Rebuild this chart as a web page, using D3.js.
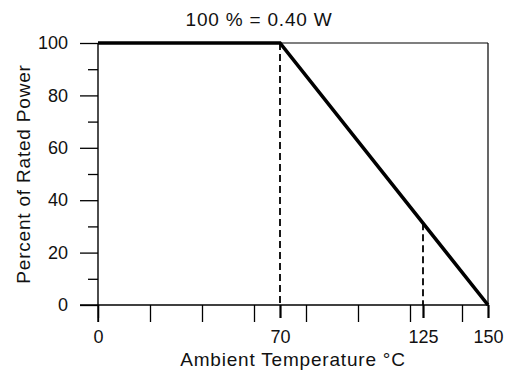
<!DOCTYPE html>
<html>
<head>
<meta charset="utf-8">
<script src="https://cdn.jsdelivr.net/npm/d3@7"></script>
<style>
  body { margin: 0; background: #fff; }
  svg text { font-family: "Liberation Sans", Arial, sans-serif; fill: #111; }
  .axis path { display: none; }
  .axis line { stroke: #000; }
</style>
</head>
<body>
<script>
// Derating curve
var tempC = [0, 70, 150];
var powerPct = [100, 100, 0];

// Dashed markers
var markerTemps = [70, 125];

// Ticks
var xMinorTicks = [0, 20, 40, 60, 80, 100, 120, 140];
var xMajorTicks = [0, 70, 125, 150];
var yMajorTicks = [0, 20, 40, 60, 80, 100];
var yMinorTicks = [10, 30, 50, 70, 90];

var titleText = "100 % = 0.40 W";
var xLabel = "Ambient Temperature °C";
var yLabel = "Percent of Rated Power";

window.onload = function() {
  var width = 512;
  var height = 372;
  var left = 98, right = 488, top = 43, bottom = 305;

  var svg = d3.select("body")
              .append("svg")
              .attr("width", width)
              .attr("height", height);

  var x = d3.scaleLinear().domain([0, 150]).range([left, right]);
  var y = d3.scaleLinear().domain([0, 100]).range([bottom, top]);
  // curve value at any temperature
  var curve = d3.scaleLinear().domain(tempC).range(powerPct);

  // Frame: top and right border, bottom baseline
  svg.append("line")
     .attr("x1", x(0)).attr("x2", x(150))
     .attr("y1", y(100)).attr("y2", y(100))
     .attr("stroke", "#000").attr("stroke-width", 1.2);
  svg.append("line")
     .attr("x1", x(150)).attr("x2", x(150))
     .attr("y1", y(100)).attr("y2", y(0))
     .attr("stroke", "#000").attr("stroke-width", 1.2);
  svg.append("line")
     .attr("x1", x(0) - 18).attr("x2", x(150))
     .attr("y1", y(0)).attr("y2", y(0))
     .attr("stroke", "#000").attr("stroke-width", 1.4);
  svg.append("line")
     .attr("x1", x(0)).attr("x2", x(0))
     .attr("y1", y(100)).attr("y2", y(0) + 17)
     .attr("stroke", "#000").attr("stroke-width", 1.4);

  // Y axis
  svg.append("g")
     .attr("class", "axis")
     .attr("transform", "translate(" + left + ",0)")
     .call(d3.axisLeft(y).tickValues(yMinorTicks).tickSize(10).tickFormat(""))
     .selectAll("line").attr("stroke-width", 1.3);
  var yAxis = svg.append("g")
     .attr("class", "axis")
     .attr("transform", "translate(" + left + ",0)")
     .call(d3.axisLeft(y).tickValues(yMajorTicks).tickSize(18).tickPadding(12));
  yAxis.selectAll("line").attr("stroke-width", 1.3);
  yAxis.selectAll("text").attr("font-size", 18).attr("fill", "#111");

  // X axis
  svg.append("g")
     .attr("class", "axis")
     .attr("transform", "translate(0," + bottom + ")")
     .call(d3.axisBottom(x).tickValues(xMinorTicks).tickSize(17).tickFormat(""))
     .selectAll("line").attr("stroke-width", 1.3);
  var xAxis = svg.append("g")
     .attr("class", "axis")
     .attr("transform", "translate(0," + bottom + ")")
     .call(d3.axisBottom(x).tickValues(xMajorTicks).tickSize(13).tickPadding(12));
  xAxis.selectAll("line").attr("stroke-width", function(d) { return d === 0 ? 1.3 : 2.2; });
  xAxis.selectAll("text").attr("font-size", 18).attr("fill", "#111");

  // Dashed markers
  svg.selectAll(".marker")
     .data(markerTemps)
     .enter()
     .append("line")
     .attr("class", "marker")
     .attr("x1", function(d) { return x(d); })
     .attr("x2", function(d) { return x(d); })
     .attr("y1", function(d) { return y(curve(d)); })
     .attr("y2", y(0))
     .attr("stroke", "#000")
     .attr("stroke-width", 1.8)
     .attr("stroke-dasharray", "7,4");

  // Derating curve
  var line = d3.line()
               .x(function(d) { return x(d[0]); })
               .y(function(d) { return y(d[1]); });
  svg.append("path")
     .datum(d3.zip(tempC, powerPct))
     .attr("d", line)
     .attr("fill", "none")
     .attr("stroke", "#000")
     .attr("stroke-width", 3.6)
     .attr("stroke-linejoin", "miter");

  // Title
  svg.append("text")
     .text(titleText)
     .attr("x", 259)
     .attr("y", 26)
     .attr("text-anchor", "middle")
     .attr("font-size", 19)
     .attr("letter-spacing", 0.8);

  // Axis labels
  svg.append("text")
     .text(xLabel)
     .attr("x", (left + right) / 2)
     .attr("y", 366)
     .attr("text-anchor", "middle")
     .attr("font-size", 19)
     .attr("letter-spacing", 0.8);
  svg.append("text")
     .text(yLabel)
     .attr("transform", "translate(30," + (top + bottom) / 2 + ") rotate(-90)")
     .attr("text-anchor", "middle")
     .attr("font-size", 19)
     .attr("letter-spacing", 0.8);
};
</script>
</body>
</html>
